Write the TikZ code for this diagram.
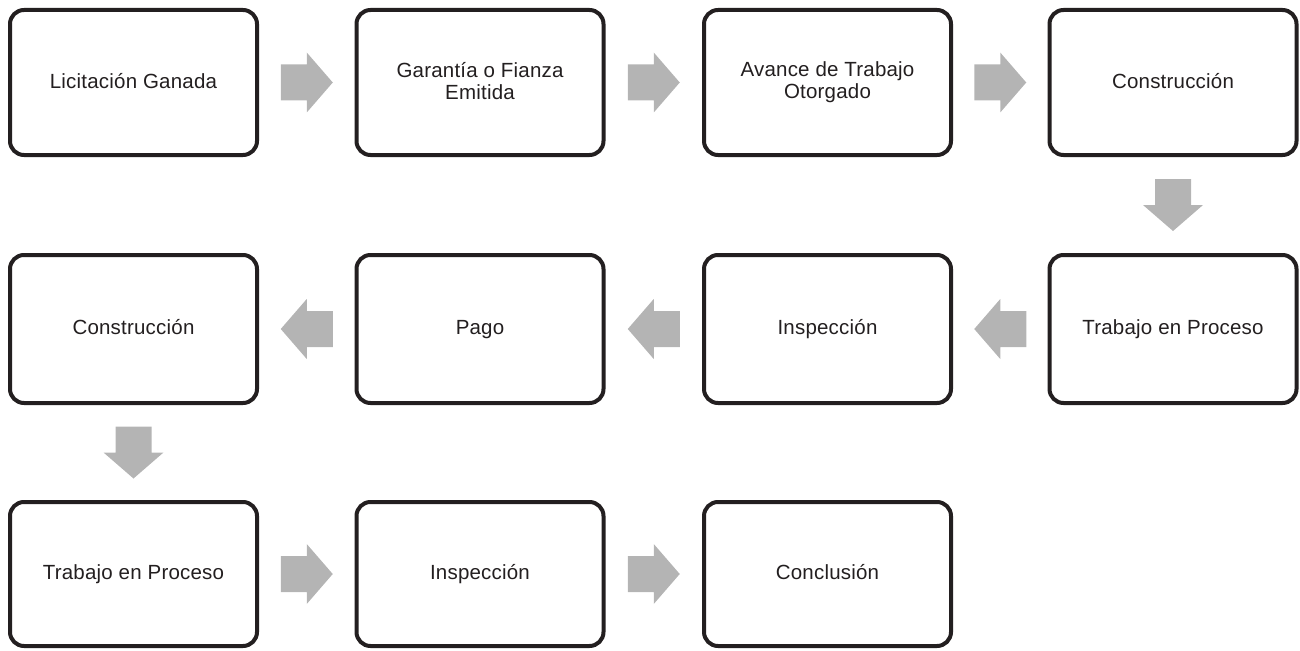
\documentclass[tikz,border=0pt]{standalone}
\usepackage{fontspec}
\setmainfont[LetterSpace=1.0]{Liberation Sans}
\usetikzlibrary{calc}
\definecolor{boxline}{RGB}{35,31,32}
\definecolor{arrowgray}{RGB}{180,180,180}
\newcommand{\topfix}{\rule{0pt}{15.2pt}}
\newcommand{\botfix}{\rule[-3.4pt]{0pt}{3.4pt}}
\begin{document}
\begin{tikzpicture}[x=1pt,y=-1pt,
  stepbox/.style={draw=boxline, line width=4pt, rounded corners=14pt, fill=white,
    minimum width=247pt, inner sep=0pt, align=center, text=boxline,
    font=\fontsize{20.5}{21.7}\selectfont,
    execute at begin node=\topfix, execute at end node=\botfix},
  rowa/.style={minimum height=145pt},
  rowb/.style={minimum height=148pt},
  rowc/.style={minimum height=144pt},
  blockarrow/.pic={\fill[arrowgray] (-26,-18) -- (0,-18) -- (0,-30) -- (26,0) -- (0,30) -- (0,18) -- (-26,18) -- cycle;}
]
\useasboundingbox (0,0) rectangle (1300,650);
% row 1
\node[stepbox,rowa] (a1) at (133.5,82.5) {Licitación Ganada};
\node[stepbox,rowa] (a2) at (480,82.5) {Garantía o Fianza\\Emitida};
\node[stepbox,rowa] (a3) at (827.5,82.5) {Avance de Trabajo\\Otorgado};
\node[stepbox,rowa] (a4) at (1173,82.5) {Construcción};
% row 2
\node[stepbox,rowb] (b1) at (133.5,329) {Construcción};
\node[stepbox,rowb] (b2) at (480,329) {Pago};
\node[stepbox,rowb] (b3) at (827.5,329) {Inspección};
\node[stepbox,rowb] (b4) at (1173,329) {Trabajo en Proceso};
% row 3
\node[stepbox,rowc] (c1) at (133.5,574) {Trabajo en Proceso};
\node[stepbox,rowc] (c2) at (480,574) {Inspección};
\node[stepbox,rowc] (c3) at (827.5,574) {Conclusión};
% arrows
\pic at ($(a1.east)!0.5!(a2.west)$) {blockarrow};
\pic at ($(a2.east)!0.5!(a3.west)$) {blockarrow};
\pic at ($(a3.east)!0.5!(a4.west)$) {blockarrow};
\pic[rotate=-90] at ($(a4.south)!0.5!(b4.north)$) {blockarrow};
\pic[rotate=180] at ($(b4.west)!0.5!(b3.east)$) {blockarrow};
\pic[rotate=180] at ($(b3.west)!0.5!(b2.east)$) {blockarrow};
\pic[rotate=180] at ($(b2.west)!0.5!(b1.east)$) {blockarrow};
\pic[rotate=-90] at ($(b1.south)!0.5!(c1.north)$) {blockarrow};
\pic at ($(c1.east)!0.5!(c2.west)$) {blockarrow};
\pic at ($(c2.east)!0.5!(c3.west)$) {blockarrow};
\end{tikzpicture}
\end{document}
